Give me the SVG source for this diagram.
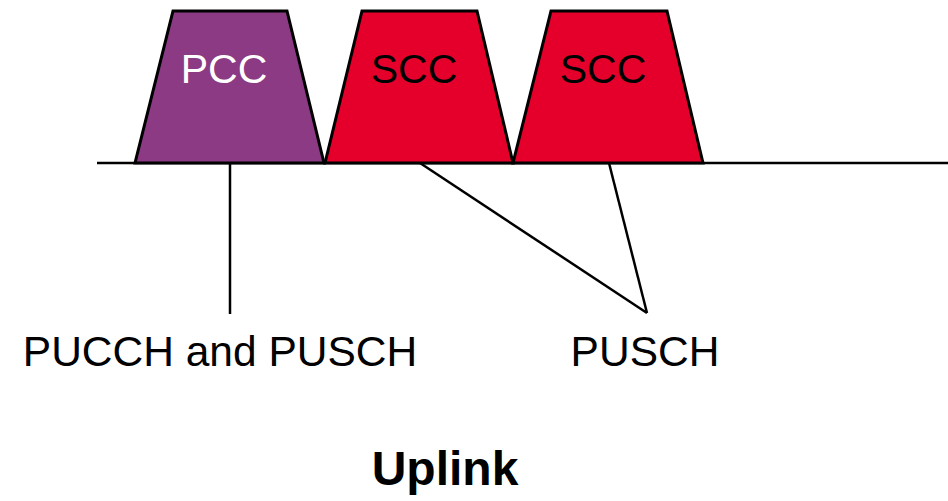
<svg xmlns="http://www.w3.org/2000/svg" width="948" height="501" viewBox="0 0 948 501">
<style>
.cc{stroke:#000;stroke-width:3;stroke-linejoin:miter}
.pcc{fill:#8B3A83}
.scc{fill:#E4002B}
.ln{stroke:#000;stroke-width:2.5;fill:none}
.t{font-family:"Liberation Sans",Arial,sans-serif;font-size:41px;text-anchor:middle}
.lbl{font-family:"Liberation Sans",Arial,sans-serif;font-size:42.5px;text-anchor:middle;fill:#000}
</style>
<rect width="948" height="501" fill="#fff"/>
<g id="connectors">
<line class="ln" x1="97" y1="163" x2="948" y2="163"/>
<line class="ln" x1="230" y1="163" x2="230" y2="314"/>
<line class="ln" x1="420" y1="163" x2="647" y2="313"/>
<line class="ln" x1="609" y1="163" x2="647" y2="313"/>
</g>
<g id="pcc">
<polygon class="cc pcc" points="173,11 287,11 324,163 135,163"/>
<text class="t" x="224" y="83" fill="#fff">PCC</text>
</g>
<g id="scc1">
<polygon class="cc scc" points="362,11 477,11 513,163 325,163"/>
<text class="t" x="414" y="83" fill="#000">SCC</text>
</g>
<g id="scc2">
<polygon class="cc scc" points="551,11 667,11 703,163 513,163"/>
<text class="t" x="603" y="83" fill="#000">SCC</text>
</g>
<g id="label-pucch">
<text class="lbl" x="220" y="366">PUCCH and PUSCH</text>
</g>
<g id="label-pusch">
<text class="lbl" x="645" y="366">PUSCH</text>
</g>
<g id="title">
<text class="lbl" x="445" y="485" font-weight="bold" style="font-size:48px">Uplink</text>
</g>
</svg>
